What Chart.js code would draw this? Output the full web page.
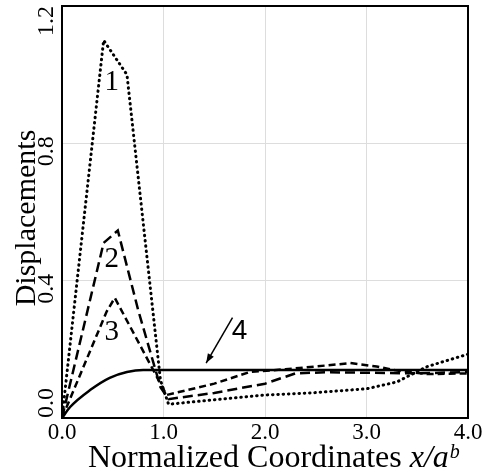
<!DOCTYPE html>
<html>
<head>
<meta charset="utf-8">
<script src="https://cdn.jsdelivr.net/npm/chart.js@4.4.0/dist/chart.umd.min.js"></script>
<style>
  html, body { margin: 0; padding: 0; background: #fff; }
  #wrap { width: 487px; height: 474px; }
</style>
</head>
<body>
<div id="wrap"><canvas id="chart" width="487" height="474"></canvas></div>
<script>
// curve 1 (dotted)
const curve1X = [0, 0.41, 0.64, 0.97, 1.05, 1.5, 2.0, 2.45, 3.0, 3.3, 3.45, 3.6, 4.0];
const curve1Y = [0, 1.10, 1.00, 0.11, 0.04, 0.053, 0.067, 0.073, 0.085, 0.105, 0.128, 0.15, 0.186];

// curve 2 (long dashes)
const curve2X = [0, 0.41, 0.55, 0.75, 0.97, 1.05, 1.5, 2.0, 2.3, 2.6, 3.0, 3.5, 4.0];
const curve2Y = [0, 0.51, 0.546, 0.315, 0.09, 0.055, 0.073, 0.10, 0.13, 0.133, 0.132, 0.13, 0.134];

// curve 3 (short dashes)
const curve3X = [0, 0.44, 0.52, 1.03, 1.5, 1.85, 2.2, 2.5, 2.84, 3.1, 3.3, 3.6, 4.0];
const curve3Y = [0, 0.31, 0.35, 0.067, 0.10, 0.134, 0.142, 0.15, 0.16, 0.15, 0.138, 0.128, 0.13];

// curve 4 (solid)
const curve4X = [0, 0.08, 0.28, 0.47, 0.64, 0.8, 1.0, 2.0, 3.0, 4.0];
const curve4Y = [0, 0.032, 0.082, 0.117, 0.134, 0.14, 0.14, 0.14, 0.14, 0.14];

const xTicks = [0, 1, 2, 3, 4];
const yTicks = [0, 0.4, 0.8, 1.2];

// curve labels, in data coordinates
const labelText = ['1', '2', '3'];
const labelX = [0.49, 0.49, 0.49];
const labelY = [0.978, 0.461, 0.248];
const arrowFrom = [1.68, 0.292];
const arrowTo = [1.42, 0.16];
const label4 = [1.75, 0.254];

const SERIF = '"Liberation Serif", "Times New Roman", serif';
const SANS = '"Liberation Sans", Arial, sans-serif';

const toPts = (xs, ys) => xs.map((x, i) => ({x: x, y: ys[i]}));

const lineBase = {
    borderColor: '#000',
    borderWidth: 2.5,
    pointRadius: 0,
    fill: false,
    tension: 0
};

const annotations = {
    id: 'annotations',
    afterDatasetsDraw(chart) {
        const ctx = chart.ctx;
        const xs = chart.scales.x, ys = chart.scales.y;
        const a = chart.chartArea;
        ctx.save();
        ctx.fillStyle = '#000';
        ctx.strokeStyle = '#000';

        // curve numbers
        ctx.font = '29px ' + SERIF;
        ctx.textAlign = 'center';
        ctx.textBaseline = 'middle';
        labelText.forEach((t, i) => {
            ctx.fillText(t, xs.getPixelForValue(labelX[i]), ys.getPixelForValue(labelY[i]));
        });
        ctx.font = '28px ' + SANS;
        ctx.fillText('4', xs.getPixelForValue(label4[0]), ys.getPixelForValue(label4[1]));

        // arrow to curve 4
        const x1 = xs.getPixelForValue(arrowFrom[0]), y1 = ys.getPixelForValue(arrowFrom[1]);
        const x2 = xs.getPixelForValue(arrowTo[0]), y2 = ys.getPixelForValue(arrowTo[1]);
        ctx.lineWidth = 1.5;
        ctx.beginPath();
        ctx.moveTo(x1, y1);
        ctx.lineTo(x2, y2);
        ctx.stroke();
        const ang = Math.atan2(y2 - y1, x2 - x1);
        const hl = 10;
        ctx.beginPath();
        ctx.moveTo(x2, y2);
        ctx.lineTo(x2 - hl * Math.cos(ang - 0.35), y2 - hl * Math.sin(ang - 0.35));
        ctx.lineTo(x2 - hl * Math.cos(ang + 0.35), y2 - hl * Math.sin(ang + 0.35));
        ctx.closePath();
        ctx.fill();

        // frame
        ctx.lineWidth = 2;
        ctx.strokeRect(a.left, a.top, a.right - a.left, a.bottom - a.top);

        // rotated y tick labels
        ctx.font = '24px ' + SERIF;
        ctx.textBaseline = 'alphabetic';
        yTicks.forEach(v => {
            const t = v.toFixed(1);
            const w = ctx.measureText(t).width;
            let cy = ys.getPixelForValue(v) + 8;
            cy = Math.max(a.top + w / 2, Math.min(a.bottom - w / 2, cy));
            ctx.save();
            ctx.translate(53, cy);
            ctx.rotate(-Math.PI / 2);
            ctx.textAlign = 'center';
            ctx.fillText(t, 0, 0);
            ctx.restore();
        });

        // y axis title
        ctx.save();
        ctx.font = '30px ' + SERIF;
        ctx.translate(35, (a.top + a.bottom) / 2 + 6);
        ctx.rotate(-Math.PI / 2);
        ctx.textAlign = 'center';
        ctx.fillText('Displacements', 0, 0);
        ctx.restore();

        // x axis title with italic part and superscript
        const base = 467;
        let x = 88;
        ctx.textAlign = 'left';
        ctx.font = '32px ' + SERIF;
        ctx.fillText('Normalized Coordinates ', x, base);
        x += ctx.measureText('Normalized Coordinates ').width;
        ctx.font = 'italic 32px ' + SERIF;
        ctx.fillText('x/a', x, base);
        x += ctx.measureText('x/a').width + 1;
        ctx.font = 'italic 20px ' + SERIF;
        ctx.fillText('b', x, base - 9);
        ctx.restore();
    }
};

new Chart(document.getElementById('chart'), {
    type: 'line',
    data: {
        datasets: [
            Object.assign({}, lineBase, {label: '1', data: toPts(curve1X, curve1Y), borderWidth: 3, borderDash: [0.5, 4.8], borderCapStyle: 'round'}),
            Object.assign({}, lineBase, {label: '2', data: toPts(curve2X, curve2Y), borderDash: [10, 5]}),
            Object.assign({}, lineBase, {label: '3', data: toPts(curve3X, curve3Y), borderDash: [7, 4]}),
            Object.assign({}, lineBase, {label: '4', data: toPts(curve4X, curve4Y), cubicInterpolationMode: 'monotone'})
        ]
    },
    options: {
        responsive: false,
        animation: false,
        layout: { padding: { top: 6, right: 19, left: 0, bottom: 0 } },
        plugins: {
            legend: { display: false },
            tooltip: { enabled: false }
        },
        scales: {
            x: {
                type: 'linear',
                min: 0,
                max: 4,
                afterBuildTicks: s => { s.ticks = xTicks.map(v => ({value: v})); },
                afterFit: s => { s.height = 56; },
                grid: { color: '#dddddd', lineWidth: 1, drawTicks: false },
                border: { display: false },
                ticks: {
                    color: '#000',
                    padding: 1,
                    maxRotation: 0,
                    font: { family: SERIF, size: 23 },
                    callback: v => Number(v).toFixed(1)
                }
            },
            y: {
                type: 'linear',
                min: 0,
                max: 1.2,
                afterBuildTicks: s => { s.ticks = yTicks.map(v => ({value: v})); },
                afterFit: s => { s.width = 62; },
                grid: { color: '#dddddd', lineWidth: 1, drawTicks: false },
                border: { display: false },
                ticks: { display: false }
            }
        }
    },
    plugins: [annotations]
});
</script>
</body>
</html>
